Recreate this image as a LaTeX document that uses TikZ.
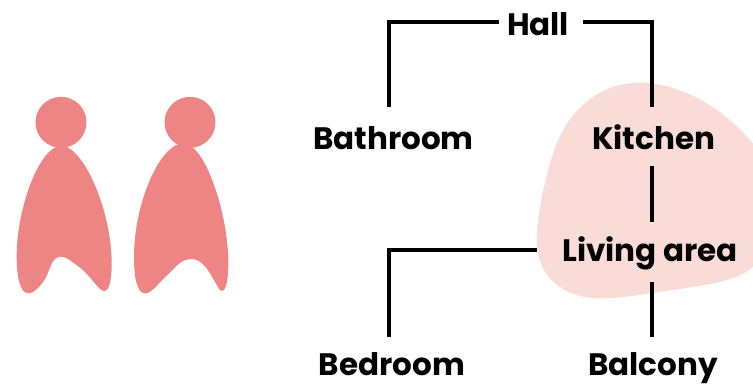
\documentclass[tikz,border=0pt]{standalone}
\usepackage{fontspec}
\setmainfont{Poppins}
\definecolor{fig}{HTML}{ED8585}
\definecolor{blob}{HTML}{F9DBD7}
\tikzset{lab/.style={font=\fontsize{31}{31}\selectfont\bfseries,inner sep=0pt,text=black,anchor=base},
conn/.style={line width=3.8pt,black}}
\begin{document}
\begin{tikzpicture}[x=1pt,y=-1pt]
\useasboundingbox (0,0) rectangle (753,387);
% blob
\begin{scope}[shift={(520,70)},x=0.33333pt,y=-0.33333pt]
\fill[blob] (360,38) .. controls (470,38) and (610,105) .. (710,235) .. controls (750,300) and (760,520) .. (699,590) .. controls (650,640) and (520,650) .. (400,668) .. controls (330,680) and (280,685) .. (240,685) .. controls (130,685) and (50,620) .. (50,510) .. controls (50,430) and (80,300) .. (110,220) .. controls (150,120) and (240,38) .. (360,38) -- cycle;
\end{scope}
% figures
\begin{scope}[shift={(0,80)},x=0.33333pt,y=-0.33333pt]
\fill[fig] (183,127) circle[radius=25.5pt];
\fill[fig] (570,127) circle[radius=25.5pt];
\fill[fig] (185,197) .. controls (250,200) and (335,390) .. (335,550) .. controls (335,610) and (325,633) .. (313,633) .. controls (295,633) and (275,590) .. (240,563) .. controls (215,545) and (200,530) .. (183,530) .. controls (150,530) and (150,580) .. (130,605) .. controls (115,625) and (100,640) .. (85,640) .. controls (60,640) and (50,590) .. (50,530) .. controls (50,380) and (120,197) .. (185,197) -- cycle;
\fill[fig] (550,190) .. controls (615,190) and (685,400) .. (685,550) .. controls (685,600) and (678,633) .. (665,633) .. controls (650,633) and (625,537) .. (575,537) .. controls (540,537) and (525,565) .. (495,592) .. controls (475,610) and (455,640) .. (435,640) .. controls (410,640) and (402,590) .. (402,530) .. controls (402,370) and (480,190) .. (550,190) -- cycle;
\end{scope}
\node[lab] (hall) at (538,35.5) {Hall};
\node[lab] (bath) at (393.5,149.5) {Bathroom};
\node[lab] (kit) at (653.7,149.5) {Kitchen};
\node[lab] (liv) at (650,261.7) {Living area};
\node[lab] (bed) at (392,376) {Bedroom};
\node[lab] (bal) at (653,376) {Balcony};
\coordinate (hl) at ([shift={(-39,-13.5)}]hall.base);
\coordinate (hr) at ([shift={(45,-13.5)}]hall.base);
\coordinate (bt) at ([shift={(-4.5,-42.5)}]bath.base);
\coordinate (kt) at ([shift={(-1.4,-42)}]kit.base);
\coordinate (kb) at ([shift={(-1.4,16.2)}]kit.base);
\coordinate (lt) at ([shift={(2.3,-40)}]liv.base);
\coordinate (lb) at ([shift={(2.3,20.3)}]liv.base);
\coordinate (bo) at ([shift={(-0.7,-39)}]bal.base);
\coordinate (ll) at ([shift={(-113,-11.4)}]liv.base);
\coordinate (bd) at ([shift={(-3,-39)}]bed.base);
\draw[conn] (hl) -| (bt);
\draw[conn] (hr) -| (kt);
\draw[conn] (kb) -- (lt);
\draw[conn] (lb) -- (bo);
\draw[conn] (ll) -| (bd);
\end{tikzpicture}
\end{document}
